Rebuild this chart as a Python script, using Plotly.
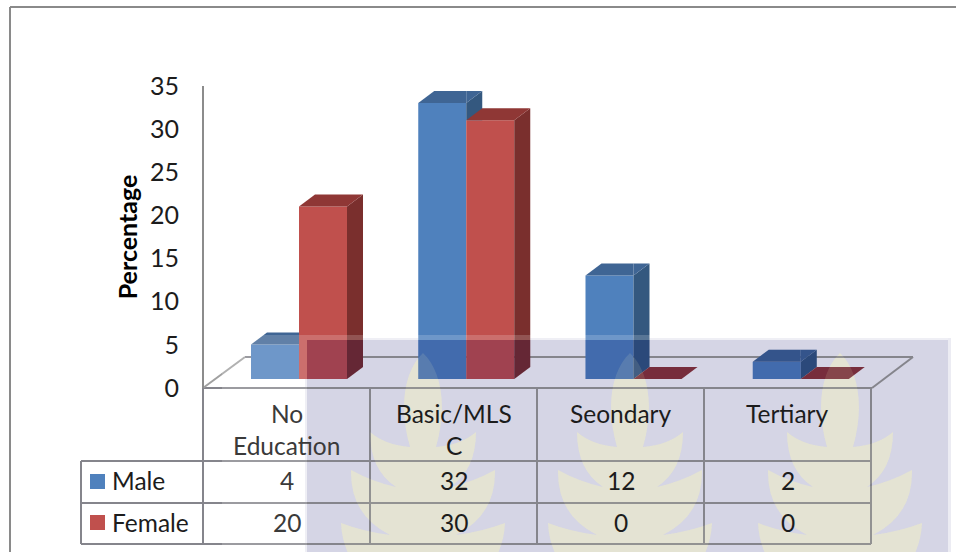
import plotly.graph_objects as go

# Chart data
categories = ["No<br>Education", "Basic/MLS<br>C", "Seondary", "Tertiary"]
series_names = ["Male", "Female"]
male = [4, 32, 12, 2]
female = [20, 30, 0, 0]
y_ticks = [0, 5, 10, 15, 20, 25, 30, 35]

# Page geometry (pixels)
W, H = 956, 552
PL, PR, PT, PB = 204, 873, 86, 388
X_UNIT = (PR - PL) / 4
Y_UNIT = (PB - PT) / 35


def fx(px):
    return (px - PL) / (PR - PL)


def fy(py):
    return (PB - py) / (PB - PT)


def dx(px):
    return (px - PL) / X_UNIT


def dy(py):
    return (PB - py) / Y_UNIT


# Bar box dimensions in axis units
BAR_W = 48 / X_UNIT
BAR_OFFSET = 47 / X_UNIT
DEPTH_X = 16 / X_UNIT
DEPTH_Y = 12 / Y_UNIT
LIFT = 9 / Y_UNIT

BLUE = dict(front="#4F81BD", side="#34587F", top="#3F6594")
RED = dict(front="#C0504D", side="#7A2F2D", top="#8F3735")
GRID = "#85858C"
AXIS = "#8C8C8C"
DIM = "rgba(0,0,100,0.165)"
FONT = "Lato"
INK = "#1c1c1c"

# Backdrop band bounds in axis units
BAND = (dx(307), dx(948), dy(552), dy(340))


def clip(poly, axis, limit, keep_low):
    out = []
    for i, p in enumerate(poly):
        q = poly[(i + 1) % len(poly)]
        pin = p[axis] <= limit if keep_low else p[axis] >= limit
        qin = q[axis] <= limit if keep_low else q[axis] >= limit
        if pin:
            out.append(p)
        if pin != qin:
            t = (limit - p[axis]) / (q[axis] - p[axis])
            out.append((p[0] + t * (q[0] - p[0]), p[1] + t * (q[1] - p[1])))
    return out


def clip_box(poly, x0, x1, y0, y1):
    for axis, limit, low in ((0, x0, False), (0, x1, True), (1, y0, False), (1, y1, True)):
        if poly:
            poly = clip(poly, axis, limit, low)
    return poly


def face(poly, color):
    xs = [p[0] for p in poly] + [poly[0][0]]
    ys = [p[1] for p in poly] + [poly[0][1]]
    return go.Scatter(x=xs, y=ys, mode="lines", fill="toself", fillcolor=color,
                      line=dict(width=0), hoverinfo="skip", showlegend=False,
                      cliponaxis=False)


def add_face(fig, poly, color):
    if len(poly) < 3:
        return
    fig.add_trace(face(poly, color))
    shaded = clip_box(poly, *BAND)
    if len(shaded) >= 3:
        fig.add_trace(face(shaded, DIM))


fig = go.Figure()

# Front faces
male_left = [i + BAR_OFFSET for i in range(4)]
female_left = [x + BAR_W for x in male_left]
fig.add_trace(go.Bar(x=[x + BAR_W / 2 for x in male_left], y=male, base=LIFT, width=BAR_W,
                     name=series_names[0], marker=dict(color=BLUE["front"], line=dict(width=0))))
fig.add_trace(go.Bar(x=[x + BAR_W / 2 for x in female_left], y=female, base=LIFT, width=BAR_W,
                     name=series_names[1], marker=dict(color=RED["front"], line=dict(width=0))))


def box_faces(left, value):
    right = left + BAR_W
    y0, y1 = LIFT, LIFT + value
    front = [(left, y0), (right, y0), (right, y1), (left, y1)]
    side = [(right, y0), (right + DEPTH_X, y0 + DEPTH_Y), (right + DEPTH_X, y1 + DEPTH_Y), (right, y1)]
    top = [(left, y1), (right, y1), (right + DEPTH_X, y1 + DEPTH_Y), (left + DEPTH_X, y1 + DEPTH_Y)]
    return front, side, top


# Side and top faces, back to front, with the male box hidden behind the female front face
for i in range(4):
    mf, ms, mt = box_faces(male_left[i], male[i])
    ff, fs, ft = box_faces(female_left[i], female[i])
    split = female_left[i]
    female_top = LIFT + female[i]
    if male[i] > 0:
        add_face(fig, clip(ms, 1, female_top, False), BLUE["side"])
        add_face(fig, clip(mt, 0, split, True), BLUE["top"])
        add_face(fig, clip(clip(mt, 0, split, False), 1, female_top, False), BLUE["top"])
    if female[i] > 0:
        add_face(fig, fs, RED["side"])
    add_face(fig, ft, RED["top"])
    # Shade the parts of the front faces that sit inside the band
    for poly, value in ((mf, male[i]), (ff, female[i])):
        shaded = clip_box(poly, *BAND)
        if value > 0 and len(shaded) >= 3:
            fig.add_trace(face(shaded, DIM))

shapes = []


def rect(x0, y0, x1, y1, color, layer):
    shapes.append(dict(type="rect", xref="paper", yref="paper", x0=fx(x0), x1=fx(x1),
                       y0=fy(y0), y1=fy(y1), fillcolor=color, line=dict(width=0), layer=layer))


def line(x0, y0, x1, y1, color=GRID, width=2):
    shapes.append(dict(type="line", xref="paper", yref="paper", x0=fx(x0), x1=fx(x1),
                       y0=fy(y0), y1=fy(y1), line=dict(color=color, width=width), layer="below"))


def emblem_path(cx):
    def pt(ox, oy):
        return f"{fx(cx + ox):.5f},{fy(oy):.5f}"

    # Right half: central flame, then three leaves separated by notches
    right = [((18, 370), (25, 405), (13, 447)),
             ((38, 445), (53, 432)), ((53, 470), (27, 487)),
             ((50, 482), (72, 470)), ((73, 515), (33, 535)),
             ((58, 532), (82, 523)), ((80, 570), (30, 600))]
    d = f"M{pt(0, 353)}"
    for seg in right:
        d += (" C" if len(seg) == 3 else " Q") + " ".join(pt(*p) for p in seg)
    d += f" L{pt(-30, 600)}"
    # Left half, mirrored and walked back up to the flame tip
    left = [((-80, 570), (-82, 523)), ((-58, 532), (-33, 535)),
            ((-73, 515), (-72, 470)), ((-50, 482), (-27, 487)),
            ((-53, 470), (-53, 432)), ((-38, 445), (-13, 447)),
            ((-25, 405), (-18, 370), (0, 353))]
    for seg in left:
        d += (" C" if len(seg) == 3 else " Q") + " ".join(pt(*p) for p in seg)
    return d + " Z"


# Page frame
line(10, 7, 956, 7, "#8A8A8A")
line(10, 7, 10, 552, "#8A8A8A")

# Backdrop band with soft edges and its pale emblems
rect(305, 338, 951, 552, "#ECECF3", "below")
rect(307, 340, 948, 552, "#D5D5E5", "below")
EMBLEMS = [423, 630, 840]
for cx in EMBLEMS:
    shapes.append(dict(type="path", xref="paper", yref="paper", path=emblem_path(cx),
                       fillcolor="#E2E1D6", line=dict(width=0), layer="below"))

# Perspective floor
line(203, 388, 872, 388)
line(245, 357, 913, 357)
line(203, 388, 245, 357, "#A0A0A0")
line(872, 388, 913, 357)

# Data table rules
COL_X = [203, 370, 537, 704, 871]
for x in COL_X:
    line(x, 388, x, 544)
line(81, 461, 81, 544)
for y in (461, 503, 544):
    line(81, y, 871, y)

# Legend keys
rect(90, 474, 105, 489, BLUE["front"], "above")
rect(90, 515, 105, 530, RED["front"], "above")

# Translucent layers above the marks
rect(222, 335, 307, 552, "rgba(255,255,255,0.18)", "above")
rect(307, 335, 948, 340, "rgba(255,255,255,0.18)", "above")
for cx in EMBLEMS:
    shapes.append(dict(type="path", xref="paper", yref="paper", path=emblem_path(cx),
                       fillcolor="rgba(250,245,190,0.12)", line=dict(width=0), layer="above"))

annotations = []


def label(px, py, text, color=INK, anchor="center", size=24.5):
    annotations.append(dict(xref="paper", yref="paper", x=fx(px), y=fy(py), text=text, showarrow=False,
                            xanchor=anchor, yanchor="middle", font=dict(family=FONT, size=size, color=color)))


CENTRES = [(COL_X[i] + COL_X[i + 1]) / 2 for i in range(4)]
for i, cx in enumerate(CENTRES):
    col = "#3a3a3a" if i == 0 else INK
    parts = categories[i].split("<br>")
    label(cx, 413, parts[0], col)
    if len(parts) > 1:
        label(cx, 445, parts[1], col)
    label(cx, 480, str(male[i]), col)
    label(cx, 522, str(female[i]), col)
label(110, 480, series_names[0], anchor="left")
label(110, 522, series_names[1], anchor="left")

fig.update_layout(
    width=W, height=H,
    margin=dict(l=PL, r=W - PR, t=PT, b=H - PB, pad=0),
    paper_bgcolor="white", plot_bgcolor="rgba(0,0,0,0)",
    showlegend=False, barmode="overlay",
    shapes=shapes, annotations=annotations,
    font=dict(family=FONT, color=INK),
    xaxis=dict(range=[0, 4], visible=False, fixedrange=True),
    yaxis=dict(
        range=[0, 35], tickvals=y_ticks, ticktext=[str(v) for v in y_ticks],
        showgrid=False, zeroline=False, showline=True, linecolor=AXIS, linewidth=2,
        ticks="outside", ticklen=18, tickcolor="rgba(0,0,0,0)",
        tickfont=dict(family=FONT, size=25, color=INK),
        title=dict(text="<b>Percentage</b>", standoff=5, font=dict(family=FONT, size=25, color="black")),
        automargin=False, fixedrange=True,
    ),
)

fig.write_html("out.html", config=dict(displayModeBar=False))
